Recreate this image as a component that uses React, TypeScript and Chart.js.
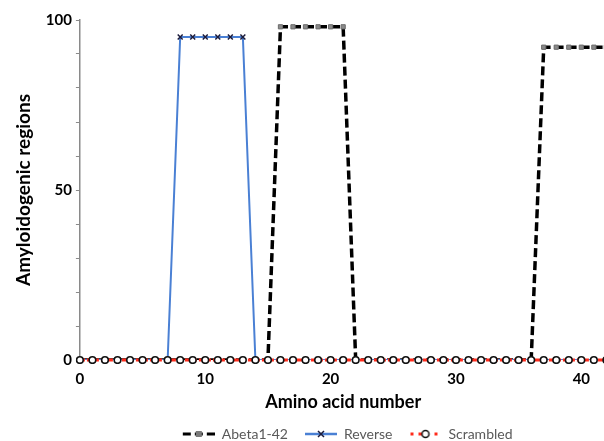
import React, { useEffect, useRef } from "react";
import { Chart, registerables } from "chart.js";
Chart.register(...registerables);

const aminoAcidNumbers = [0, 1, 2, 3, 4, 5, 6, 7, 8, 9, 10, 11, 12, 13, 14, 15, 16, 17, 18, 19, 20, 21, 22, 23, 24, 25, 26, 27, 28, 29, 30, 31, 32, 33, 34, 35, 36, 37, 38, 39, 40, 41, 42];
const abetaValues = [0, 0, 0, 0, 0, 0, 0, 0, 0, 0, 0, 0, 0, 0, 0, 0, 98, 98, 98, 98, 98, 98, 0, 0, 0, 0, 0, 0, 0, 0, 0, 0, 0, 0, 0, 0, 0, 92, 92, 92, 92, 92, 92];
const reverseValues = [0, 0, 0, 0, 0, 0, 0, 0, 95, 95, 95, 95, 95, 95, 0, 0, 0, 0, 0, 0, 0, 0, 0, 0, 0, 0, 0, 0, 0, 0, 0, 0, 0, 0, 0, 0, 0, 0, 0, 0, 0, 0, 0];
const scrambledValues = [0, 0, 0, 0, 0, 0, 0, 0, 0, 0, 0, 0, 0, 0, 0, 0, 0, 0, 0, 0, 0, 0, 0, 0, 0, 0, 0, 0, 0, 0, 0, 0, 0, 0, 0, 0, 0, 0, 0, 0, 0, 0, 0];
const seriesLabels = ["Abeta1-42", "Reverse", "Scrambled"];
const yLabelledTicks = [0, 50, 100];
const xAxisTitle = "Amino acid number";
const yAxisTitle = "Amyloidogenic regions";

const FONT = "Lato, 'Liberation Sans', sans-serif";
const BLACK = "#000000";
const BLUE = "#4a80d4";
const RED = "#ff2a1a";

function makeLegendImage(kind: number): HTMLCanvasElement {
  const c = document.createElement("canvas");
  c.width = 41;
  c.height = 14;
  const ctx = c.getContext("2d")!;
  const cy = 7;
  const x0 = 9;
  const x1 = 41;
  const mid = (x0 + x1) / 2;
  if (kind === 0) {
    ctx.strokeStyle = BLACK;
    ctx.lineWidth = 3;
    ctx.setLineDash([8, 4]);
    ctx.beginPath();
    ctx.moveTo(x0, cy);
    ctx.lineTo(x1, cy);
    ctx.stroke();
    ctx.setLineDash([]);
    ctx.fillStyle = "#7a7a7a";
    ctx.fillRect(mid - 3, cy - 3, 6, 6);
  } else if (kind === 1) {
    ctx.strokeStyle = BLUE;
    ctx.lineWidth = 2.5;
    ctx.beginPath();
    ctx.moveTo(x0, cy);
    ctx.lineTo(x1, cy);
    ctx.stroke();
    ctx.strokeStyle = "#1c1c3c";
    ctx.lineWidth = 1.5;
    ctx.beginPath();
    ctx.moveTo(mid - 3, cy - 3);
    ctx.lineTo(mid + 3, cy + 3);
    ctx.moveTo(mid + 3, cy - 3);
    ctx.lineTo(mid - 3, cy + 3);
    ctx.stroke();
  } else {
    ctx.strokeStyle = RED;
    ctx.lineWidth = 3;
    ctx.setLineDash([3, 5]);
    ctx.beginPath();
    ctx.moveTo(x0 + 1, cy);
    ctx.lineTo(x1, cy);
    ctx.stroke();
    ctx.setLineDash([]);
    ctx.fillStyle = "#ffffff";
    ctx.strokeStyle = "#111111";
    ctx.lineWidth = 1.5;
    ctx.beginPath();
    ctx.arc(mid, cy, 3.5, 0, Math.PI * 2);
    ctx.fill();
    ctx.stroke();
  }
  return c;
}

export default function App() {
  const ref = useRef<HTMLCanvasElement>(null);
  useEffect(() => {
    const canvas = ref.current!;
    const images = [makeLegendImage(0), makeLegendImage(1), makeLegendImage(2)];
    const toPoints = (vals: number[]) => aminoAcidNumbers.map((x, i) => ({ x, y: vals[i] }));
    const chart = new Chart(canvas, {
      type: "line",
      data: {
        datasets: [
          {
            label: seriesLabels[0],
            data: toPoints(abetaValues),
            borderColor: BLACK,
            borderWidth: 3.5,
            borderDash: [9, 4],
            pointStyle: "rect",
            pointRadius: 3,
            pointBackgroundColor: "#8a8a8a",
            pointBorderColor: "#6e6e6e",
            pointBorderWidth: 1,
            order: 3,
          },
          {
            label: seriesLabels[1],
            data: toPoints(reverseValues),
            borderColor: BLUE,
            borderWidth: 2,
            pointStyle: "crossRot",
            pointRadius: 3.5,
            pointBorderColor: "#1c1c3c",
            pointBorderWidth: 1.5,
            order: 2,
          },
          {
            label: seriesLabels[2],
            data: toPoints(scrambledValues),
            borderColor: RED,
            borderWidth: 3,
            borderDash: [5, 2],
            pointStyle: "circle",
            pointRadius: 3.3,
            pointBackgroundColor: "#ffffff",
            pointBorderColor: "#111111",
            pointBorderWidth: 1.6,
            order: 1,
            clip: 4,
          },
        ],
      },
      options: {
        responsive: false,
        animation: false,
        layout: { padding: { top: 20, left: 4, right: 2, bottom: 0 } },
        scales: {
          x: {
            type: "linear",
            min: 0,
            max: 42,
            grid: { display: false, drawTicks: false },
            border: { display: false },
            ticks: {
              stepSize: 10,
              includeBounds: false,
              color: BLACK,
              padding: 10,
              font: { family: FONT, size: 15, weight: "bold" },
            },
            title: {
              display: true,
              text: xAxisTitle,
              color: BLACK,
              padding: { top: -7, bottom: 6.4 },
              font: { family: FONT, size: 18, weight: "bold" },
            },
          },
          y: {
            type: "linear",
            min: 0,
            max: 100,
            grid: { drawOnChartArea: false, tickLength: 4, color: "#8a8a8a", lineWidth: 1 },
            border: { display: true, color: "#8a8a8a", width: 1.5 },
            ticks: {
              stepSize: 10,
              autoSkip: false,
              color: BLACK,
              padding: 4,
              font: { family: FONT, size: 15, weight: "bold" },
              callback: (v: any) => (yLabelledTicks.includes(Number(v)) ? String(v) : ""),
            },
            title: {
              display: true,
              text: yAxisTitle,
              color: BLACK,
              padding: { top: 8, bottom: 7 },
              font: { family: FONT, size: 19, weight: "bold" },
            },
          },
        },
        plugins: {
          tooltip: { enabled: false },
          legend: {
            position: "bottom",
            fullSize: false,
            labels: {
              usePointStyle: true,
              pointStyleWidth: 41,
              boxHeight: 12,
              padding: 8,
              color: "#595959",
              font: { family: FONT, size: 14 },
              generateLabels: () =>
                seriesLabels.map((text, i) => ({
                  text,
                  pointStyle: images[i] as any,
                  fillStyle: "transparent",
                  strokeStyle: "transparent",
                  lineWidth: 0,
                  hidden: false,
                  datasetIndex: i,
                  fontColor: "#595959",
                })),
            },
          },
        },
      },
    });
    return () => chart.destroy();
  }, []);
  return (
    <div style={{ position: "absolute", left: 0, top: 0, width: 604, height: 441, overflow: "hidden", background: "#fff" }}>
      <canvas ref={ref} width={612} height={451} style={{ display: "block" }} />
    </div>
  );
}
